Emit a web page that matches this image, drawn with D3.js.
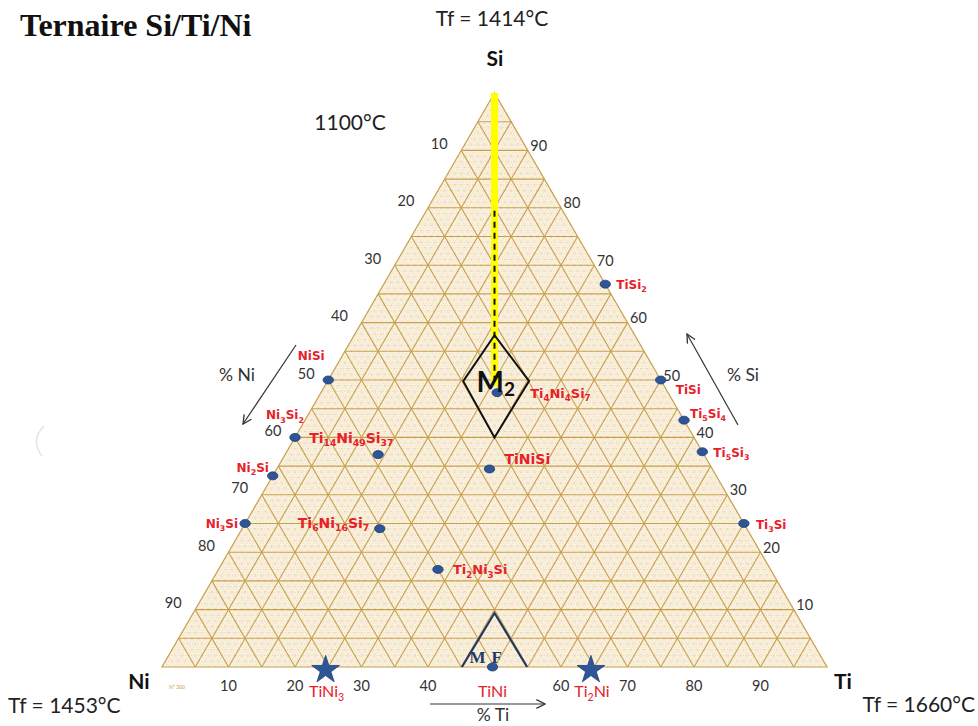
<!DOCTYPE html>
<html>
<head>
<meta charset="utf-8">
<script src="https://cdn.jsdelivr.net/npm/d3@7"></script>
<style>
  html, body { margin: 0; padding: 0; background: #ffffff; }
  svg { display: block; }
</style>
</head>
<body>
<svg id="chart" width="978" height="726"></svg>
<script>
// ---------------- DATA ----------------
// compositions as fractions (Si, Ti); Ni = 1 - Si - Ti
const binaryNames = ["TiSi2", "TiSi", "Ti5Si4", "Ti5Si3", "Ti3Si", "NiSi", "Ni3Si2", "Ni2Si", "Ni3Si"];
const binarySi    = [0.667, 0.50, 0.43, 0.375, 0.25, 0.50, 0.40, 0.333, 0.25];
const binaryTi    = [0.333, 0.50, 0.57, 0.625, 0.75, 0.00, 0.00, 0.000, 0.00];

const ternaryNames = ["Ti4Ni4Si7", "Ti14Ni49Si37", "TiNiSi", "Ti6Ni16Si7", "Ti2Ni3Si", "TiNi"];
const ternarySi    = [0.478, 0.37, 0.345, 0.241, 0.17, 0.00];
const ternaryTi    = [0.265, 0.14, 0.32, 0.207, 0.33, 0.497];

const starNames = ["TiNi3", "Ti2Ni"];
const starSi    = [0.0, 0.0];
const starTi    = [0.246, 0.645];

const leftTicks   = [10, 20, 30, 40, 50, 60, 70, 80, 90];       // % Ni
const rightTicks  = [90, 80, 70, 60, 50, 40, 30, 20, 10];       // % Si
const bottomTicks = [10, 20, 30, 40, 60, 70, 80, 90];           // % Ti

const vertexNames = ["Si", "Ni", "Ti"];
const meltingTemps = ["Tf = 1414°C", "Tf = 1453°C", "Tf = 1660°C"];
const titleText = "Ternaire Si/Ti/Ni";
const isoTemp = "1100°C";

// M2 region (diamond) and M.F region, as (Si, Ti)
const m2Si = [0.578, 0.498, 0.40, 0.498];
const m2Ti = [0.211, 0.204, 0.30, 0.303];
const mfSi = [0.0, 0.094, 0.0];
const mfTi = [0.451, 0.453, 0.549];

// yellow line from Si apex down to M2 (Si fraction)
const yellowSi = [1.0, 0.49];
const dashedSi = [0.795, 0.495];

// ---------------- LAYOUT ----------------
const svg = d3.select("#chart");
const xS = d3.scaleLinear().domain([0, 1]).range([162, 827]);
const yS = d3.scaleLinear().domain([0, 1]).range([667, 93]);
const P = (si, ti) => [xS(ti + si / 2), yS(si)];

const sans = "Lato, 'Open Sans', 'Liberation Sans', sans-serif";
const labelFont = "'DejaVu Sans', sans-serif";
const red = "#e8202a";

// label layout for points (dx, dy for text position, anchor)
const binaryLayout = [
  {dx: 11, dy: 5, a: "start"},
  {dx: 15, dy: 14, a: "start"},
  {dx: 6, dy: -2, a: "start"},
  {dx: 11, dy: 5, a: "start"},
  {dx: 12, dy: 5, a: "start"},
  {dx: -17, dy: -20, a: "middle"},
  {dx: -10, dy: -18, a: "middle"},
  {dx: -20, dy: -4, a: "middle"},
  {dx: -7, dy: 4, a: "end"}
];
const ternaryLayout = [
  {dx: 33, dy: 5, a: "start", fs: 13},
  {dx: -69, dy: -12, a: "start", fs: 14},
  {dx: 15, dy: -5, a: "start", fs: 14},
  {dx: -82, dy: -1, a: "start", fs: 14},
  {dx: 15, dy: 5, a: "start", fs: 13},
  {dx: 0, dy: 30, a: "middle", fs: 16, normal: true}
];

// subscript-aware text
function richText(sel, name, fs) {
  const parts = name.match(/[A-Za-z]+|\d+/g);
  parts.forEach((p, i) => {
    const isNum = /\d/.test(p);
    const prevNum = i > 0 && /\d/.test(parts[i - 1]);
    const t = sel.append("tspan").text(p);
    if (isNum) t.attr("font-size", fs * 0.66).attr("dy", fs * 0.26);
    else if (prevNum) t.attr("dy", -fs * 0.26);
  });
}

// ---------------- TRIANGLE ----------------
const tri = [P(1, 0), P(0, 0), P(0, 1)];
svg.append("path")
  .attr("d", d3.line()(tri) + "Z")
  .attr("fill", "#f9f0de");

const gGrid = svg.append("g");
function gridLine(a, b, major) {
  gGrid.append("line")
    .attr("x1", a[0]).attr("y1", a[1]).attr("x2", b[0]).attr("y2", b[1])
    .attr("stroke", major ? "#c8a04c" : "#dcbb86")
    .attr("stroke-opacity", major ? 1 : 0.85)
    .attr("stroke-width", major ? 1.1 : 0.6)
    .attr("stroke-dasharray", major ? null : "1,1.8");
}
for (let pass = 0; pass < 2; pass++) {
  for (let i = 1; i < 100; i++) {
    const major = i % 5 === 0;
    if ((pass === 0) === major) continue;
    const f = i / 100;
    gridLine(P(f, 0), P(f, 1 - f), major);          // constant Si
    gridLine(P(0, f), P(1 - f, f), major);          // constant Ti
    gridLine(P(0, 1 - f), P(1 - f, 0), major);      // constant Ni
  }
}
svg.append("path")
  .attr("d", d3.line()(tri) + "Z")
  .attr("fill", "none")
  .attr("stroke", "#c8a04c")
  .attr("stroke-width", 1.2);

// ---------------- TICKS ----------------
const tickStyle = s => s.attr("font-family", sans).attr("font-size", 14.5).attr("fill", "#333")
  .attr("text-anchor", "middle").attr("dominant-baseline", "middle");
leftTicks.forEach(v => {
  const p = P(1 - v / 100, 0);
  svg.append("text").call(tickStyle).attr("x", p[0] - 22).attr("y", p[1] - 5).text(v);
});
rightTicks.forEach(v => {
  const p = P(v / 100, 1 - v / 100);
  svg.append("text").call(tickStyle).attr("x", p[0] + 11).attr("y", p[1] - 3).text(v);
});
bottomTicks.forEach(v => {
  const p = P(0, v / 100);
  svg.append("text").call(tickStyle).attr("x", p[0]).attr("y", 687).text(v);
});
svg.append("text").attr("x", 177).attr("y", 689).attr("font-family", sans)
  .attr("font-size", 5).attr("fill", "#c8a04c").attr("text-anchor", "middle").text("N° 300");

// ---------------- YELLOW LINE + M2 ----------------
svg.append("line")
  .attr("x1", P(yellowSi[0], (1 - yellowSi[0]) / 2)[0]).attr("y1", yS(yellowSi[0]))
  .attr("x2", P(yellowSi[1], (1 - yellowSi[1]) / 2)[0]).attr("y2", yS(yellowSi[1]))
  .attr("stroke", "#ffff00").attr("stroke-width", 7);
svg.append("line")
  .attr("x1", P(dashedSi[0], (1 - dashedSi[0]) / 2)[0]).attr("y1", yS(dashedSi[0]))
  .attr("x2", P(dashedSi[1], (1 - dashedSi[1]) / 2)[0]).attr("y2", yS(dashedSi[1]))
  .attr("stroke", "#111").attr("stroke-width", 2).attr("stroke-dasharray", "6,5");

svg.append("path")
  .attr("d", d3.line()(m2Si.map((s, i) => P(s, m2Ti[i]))) + "Z")
  .attr("fill", "none").attr("stroke", "#111").attr("stroke-width", 2);

svg.append("path")
  .attr("d", d3.line()(mfSi.map((s, i) => P(s, mfTi[i]))))
  .attr("fill", "none").attr("stroke", "#1f3864").attr("stroke-width", 2.2);

// ---------------- POINTS ----------------
const dotFill = "#2f5597";
function dot(p) {
  svg.append("ellipse").attr("cx", p[0]).attr("cy", p[1]).attr("rx", 5.2).attr("ry", 4)
    .attr("fill", dotFill).attr("stroke", "#1f3d73").attr("stroke-width", 0.8);
}
binaryNames.forEach((n, i) => {
  const p = P(binarySi[i], binaryTi[i]);
  dot(p);
  const L = binaryLayout[i];
  const t = svg.append("text").attr("x", p[0] + L.dx).attr("y", p[1] + L.dy)
    .attr("font-family", labelFont).attr("font-weight", "bold").attr("font-size", 12)
    .attr("fill", red).attr("text-anchor", L.a);
  richText(t, n, 12);
});
ternaryNames.forEach((n, i) => {
  const p = P(ternarySi[i], ternaryTi[i]);
  dot(p);
  const L = ternaryLayout[i];
  const t = svg.append("text").attr("x", p[0] + L.dx).attr("y", p[1] + L.dy)
    .attr("font-family", L.normal ? sans : labelFont).attr("font-weight", L.normal ? "normal" : "bold")
    .attr("font-size", L.fs).attr("fill", red).attr("text-anchor", L.a);
  richText(t, n, L.fs);
});

// M2 label
const m2c = P(0.496, 0.255);
const m2t = svg.append("text").attr("x", m2c[0] - 20).attr("y", m2c[1] + 10)
  .attr("font-family", sans).attr("font-weight", "bold").attr("font-size", 29).attr("fill", "#111");
m2t.append("tspan").text("M");
m2t.append("tspan").text("2").attr("font-size", 19).attr("dy", 4);

// M.F label
const mfc = P(0, 0.497);
svg.append("text").attr("x", mfc[0] - 23).attr("y", mfc[1] - 4)
  .attr("font-family", "'Liberation Serif', serif").attr("font-weight", "bold").attr("font-size", 17)
  .attr("fill", "#1f3864").text("M");
svg.append("text").attr("x", mfc[0] - 1).attr("y", mfc[1] - 4)
  .attr("font-family", "'Liberation Serif', serif").attr("font-weight", "bold").attr("font-size", 17)
  .attr("fill", "#1f3864").text("F");

// stars
const star = d3.symbol().type(d3.symbolStar).size(240);
starNames.forEach((n, i) => {
  const p = P(starSi[i], starTi[i]);
  svg.append("path").attr("d", star).attr("transform", `translate(${p[0]},${p[1] + 3})`)
    .attr("fill", "#2e5597").attr("stroke", "#1f3d73").attr("stroke-width", 0.8);
  const t = svg.append("text").attr("x", p[0] + 1).attr("y", p[1] + 30)
    .attr("font-family", sans).attr("font-size", 16).attr("fill", red).attr("text-anchor", "middle");
  richText(t, n, 16);
});

// ---------------- ARROWS ----------------
svg.append("defs").append("marker").attr("id", "arr")
  .attr("viewBox", "0 0 10 10").attr("refX", 9).attr("refY", 5)
  .attr("markerWidth", 9).attr("markerHeight", 9).attr("orient", "auto")
  .append("path").attr("d", "M1,1 L9,5 L1,9").attr("fill", "none").attr("stroke", "#333").attr("stroke-width", 1.2);
const arrows = [[296, 345, 243, 424], [738, 425, 687, 334], [430, 704, 545, 704]];
arrows.forEach(a => svg.append("line").attr("x1", a[0]).attr("y1", a[1]).attr("x2", a[2]).attr("y2", a[3])
  .attr("stroke", "#333").attr("stroke-width", 1.2).attr("marker-end", "url(#arr)"));
const arrowLabels = [["% Ni", 237, 381], ["% Si", 743, 381], ["% Ti", 493, 721]];
arrowLabels.forEach(a => svg.append("text").attr("x", a[1]).attr("y", a[2]).attr("text-anchor", "middle")
  .attr("font-family", sans).attr("font-size", 17.5).attr("fill", "#333").text(a[0]));

// ---------------- VERTEX LABELS ----------------
const vStyle = s => s.attr("font-family", sans).attr("font-weight", "bold").attr("font-size", 21)
  .attr("fill", "#111").attr("text-anchor", "middle");
svg.append("text").call(vStyle).attr("x", 495).attr("y", 66).text(vertexNames[0]);
svg.append("text").call(vStyle).attr("x", 139).attr("y", 689).text(vertexNames[1]);
svg.append("text").call(vStyle).attr("x", 843).attr("y", 689).text(vertexNames[2]);

const tStyle = s => s.attr("font-family", sans).attr("font-size", 21).attr("fill", "#222");
svg.append("text").call(tStyle).attr("x", 492).attr("y", 26).attr("text-anchor", "middle").text(meltingTemps[0]);
svg.append("text").call(tStyle).attr("x", 8).attr("y", 713).attr("text-anchor", "start").text(meltingTemps[1]);
svg.append("text").call(tStyle).attr("x", 975).attr("y", 712).attr("text-anchor", "end").text(meltingTemps[2]);
svg.append("text").call(tStyle).attr("x", 350).attr("y", 130).attr("text-anchor", "middle").text(isoTemp);

svg.append("text").attr("x", 20).attr("y", 36)
  .attr("font-family", "'Liberation Serif', 'Times New Roman', serif").attr("font-weight", "bold")
  .attr("font-size", 32).attr("fill", "#111").text(titleText);

// faint artifact arc on the left
svg.append("path").attr("d", "M44,426 Q30,440 42,456").attr("fill", "none")
  .attr("stroke", "#e4e4e4").attr("stroke-width", 1.5);
</script>
</body>
</html>
